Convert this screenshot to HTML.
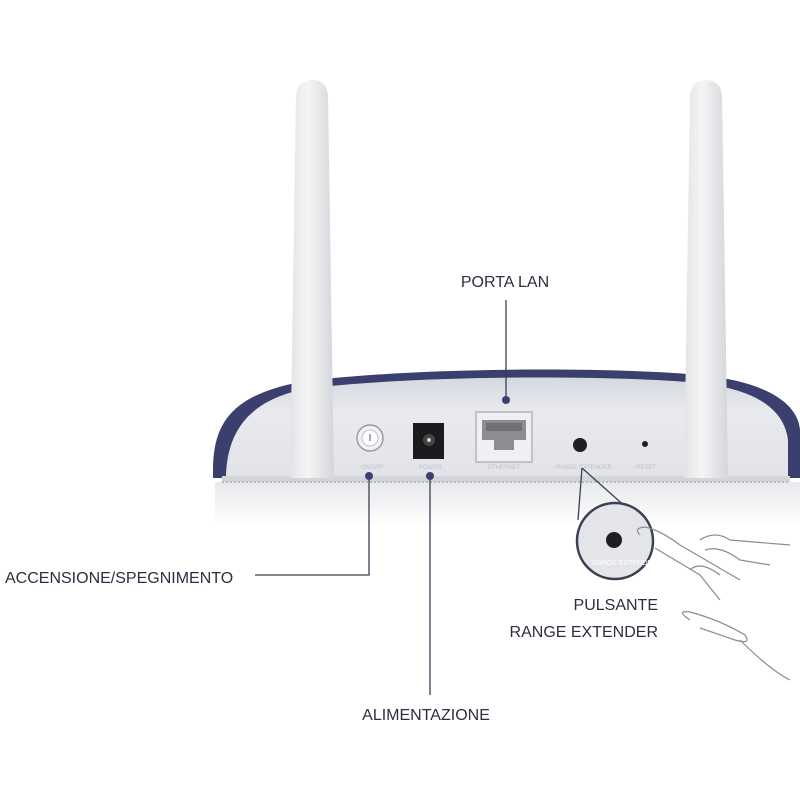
<!DOCTYPE html>
<html><head><style>
html,body{margin:0;padding:0;background:#fff;}
svg{display:block;}
text{font-family:"Liberation Sans",sans-serif;fill:#2b2f3e;font-size:16px;}
</style></head><body>
<svg width="800" height="800" viewBox="0 0 800 800">
<defs>
<linearGradient id="ant" x1="0" x2="1">
<stop offset="0" stop-color="#e2e3e6"/><stop offset="0.4" stop-color="#f5f5f6"/><stop offset="1" stop-color="#d4d6da"/>
</linearGradient>
<linearGradient id="face" x1="0" y1="0" x2="0" y2="1">
<stop offset="0" stop-color="#d6d8e0"/><stop offset="0.35" stop-color="#e9eaef"/><stop offset="1" stop-color="#e2e3e8"/>
</linearGradient>
<linearGradient id="refl" x1="0" y1="0" x2="0" y2="1">
<stop offset="0" stop-color="#e8e9ec"/><stop offset="1" stop-color="#ffffff"/>
</linearGradient>
</defs>
<rect x="215" y="482" width="585" height="45" fill="url(#refl)"/>
<!-- shell -->
<path d="M213,470 C213,420 235,395 300,382 C400,368 600,366 700,375 C770,382 798,405 800,430 L800,478 L213,478 Z" fill="#3a3f6e"/>
<path d="M226,474 C228,430 250,400 305,389 C400,376 600,374 700,383 C758,390 784,410 788,440 L788,478 L226,478 Z" fill="url(#face)"/>
<rect x="222" y="476" width="568" height="6" fill="#d3d5da"/>
<line x1="222" y1="482" x2="790" y2="482" stroke="#b8bac0" stroke-width="2" stroke-dasharray="2 2"/>
<!-- antennas -->
<path d="M290,478 L296,95 Q298,80 312,80 Q326,80 328,95 L334,478 Z" fill="url(#ant)"/>
<path d="M684,478 L690,95 Q692,80 706,80 Q720,80 722,95 L728,478 Z" fill="url(#ant)"/>
<!-- ports -->
<circle cx="370" cy="438" r="13" fill="#f2f2f4" stroke="#9a9ca4" stroke-width="1.5"/>
<circle cx="370" cy="438" r="8" fill="#fff" stroke="#c0c2c8"/>
<line x1="370" y1="434" x2="370" y2="441" stroke="#777" stroke-width="1.2"/>
<rect x="413" y="423" width="31" height="36" fill="#1b1b1d"/>
<circle cx="429" cy="440" r="6" fill="#444"/><circle cx="429" cy="440" r="2" fill="#ccc"/>
<rect x="476" y="412" width="56" height="50" fill="#f0f0f2" stroke="#b4b6bc" stroke-width="1.5"/>
<path d="M482,420 L526,420 L526,440 L514,440 L514,450 L494,450 L494,440 L482,440 Z" fill="#8b8d92"/>
<rect x="486" y="423" width="36" height="8" fill="#6e7075"/>
<circle cx="580" cy="445" r="7" fill="#1f1f22"/>
<circle cx="645" cy="444" r="3" fill="#1f1f22"/>
<g><text x="361" y="469" style="font-size:6px;fill:#c0c2c8">ON/OFF</text><text x="419" y="469" style="font-size:6px;fill:#c0c2c8">POWER</text><text x="488" y="469" style="font-size:6px;fill:#c0c2c8">ETHERNET</text><text x="556" y="469" style="font-size:6px;fill:#c0c2c8">RANGE EXTENDER</text><text x="636" y="469" style="font-size:6px;fill:#c0c2c8">RESET</text></g>
<g stroke="#3a3f52" stroke-width="1.3" fill="none">
<line x1="506" y1="300" x2="506" y2="396"/>
<polyline points="369,480 369,575 255,575"/>
<line x1="430" y1="480" x2="430" y2="695"/>
<line x1="582" y1="468" x2="578" y2="520"/>
<line x1="582" y1="468" x2="636" y2="516"/>
</g>
<g fill="#3a3f6e"><circle cx="506" cy="400" r="4"/><circle cx="369" cy="476" r="4"/><circle cx="430" cy="476" r="4"/></g>
<circle cx="615" cy="541" r="38" fill="#e4e5e9" stroke="#3a3f52" stroke-width="2.5"/>
<circle cx="614" cy="540" r="8" fill="#1f1f22"/>
<text x="592" y="565" style="font-size:7px;fill:#fff">RANGE EXTENDER</text>
<g stroke="#8a8c90" stroke-width="1.2" fill="none">
<path d="M640,535 Q633,528 645,527 Q660,530 680,545 L740,580"/>
<path d="M655,548 L700,575 L720,600"/>
<path d="M700,540 Q715,530 730,540 L790,545"/>
<path d="M705,550 Q720,545 740,560 L770,565"/>
<path d="M690,570 Q700,560 720,575"/>
<path d="M690,620 Q675,610 690,612 Q720,620 745,635 Q752,645 735,640 L700,628"/>
<path d="M740,640 Q770,670 790,680"/>
</g>
<text x="505" y="287" text-anchor="middle">PORTA LAN</text>
<text x="5" y="583">ACCENSIONE/SPEGNIMENTO</text>
<text x="426" y="720" text-anchor="middle">ALIMENTAZIONE</text>
<text x="658" y="610" text-anchor="end">PULSANTE</text>
<text x="658" y="637" text-anchor="end">RANGE EXTENDER</text>
</svg>
</body></html>
